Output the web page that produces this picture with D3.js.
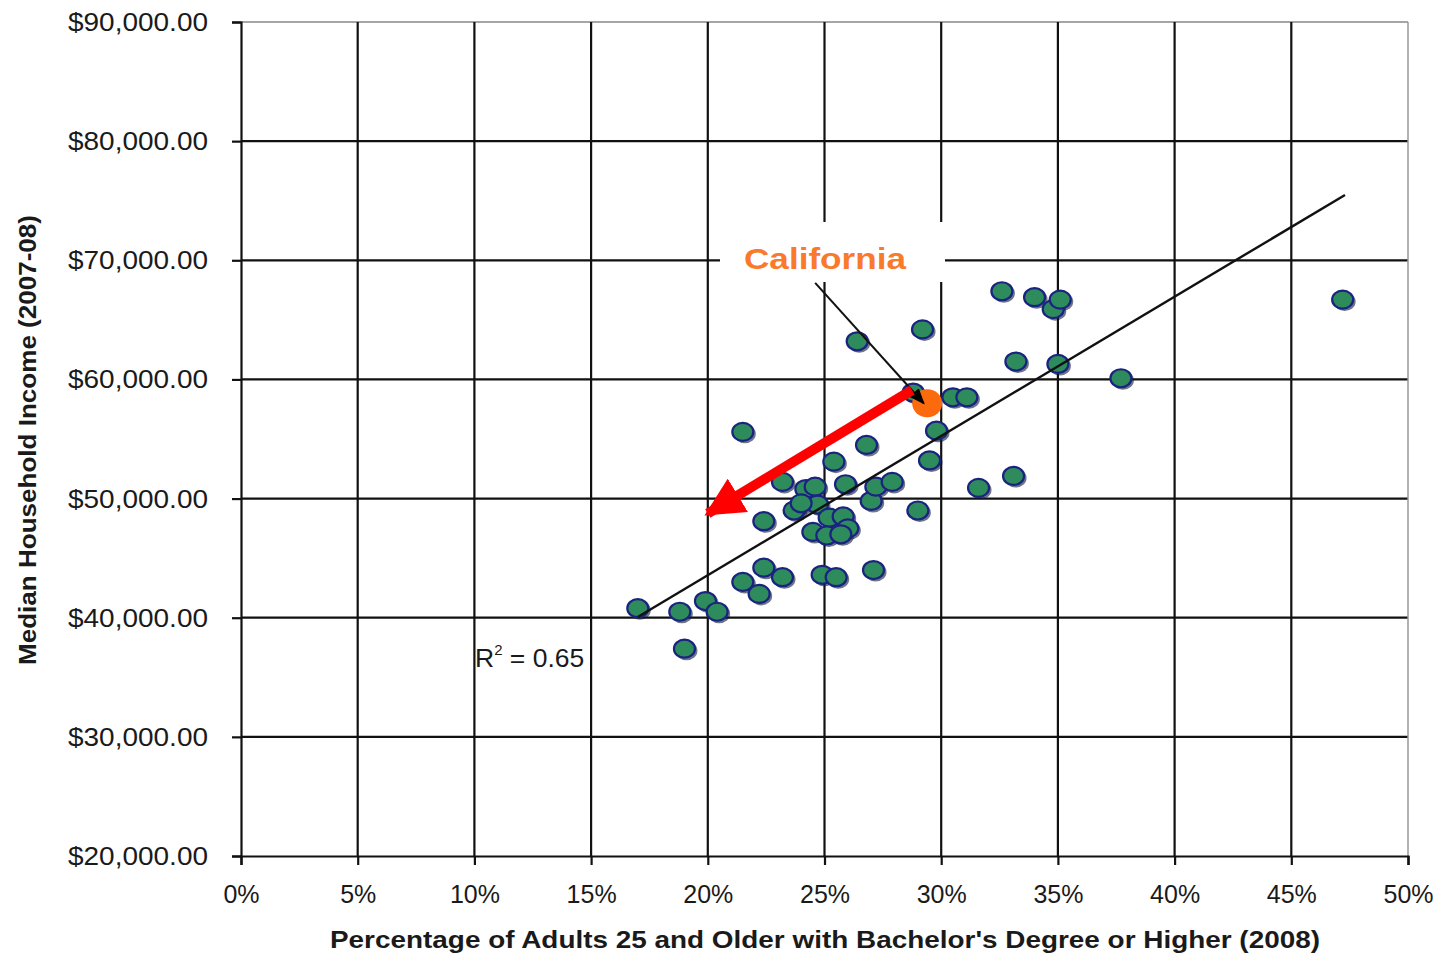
<!DOCTYPE html>
<html>
<head>
<meta charset="utf-8">
<script src="https://cdn.jsdelivr.net/npm/d3@7"></script>
<style>
  html, body { margin: 0; padding: 0; background: #fff; }
  svg { display: block; font-family: "Liberation Sans", Arial, sans-serif; }
</style>
</head>
<body>
<svg id="chart" width="1443" height="954"></svg>
<script>
// ---- Data ----
const statesPct = [17.0, 18.8, 19.0, 19.9, 20.4, 21.5, 21.5, 22.2, 22.4, 22.4,
  23.2, 23.2, 23.7, 24.2, 24.6, 24.7, 24.5, 24.9, 25.5, 25.2,
  25.1, 25.8, 26.0, 25.7, 25.4, 25.9, 26.8, 26.4, 27.0, 27.2,
  27.9, 27.1, 29.0, 29.2, 28.8, 29.5, 29.8, 30.5, 31.1, 31.6,
  32.6, 34.0, 34.8, 35.1, 33.2, 35.0, 37.7, 47.2, 33.1, 24.0];
const statesIncome = [40800, 40500, 37400, 41400, 40500, 55600, 43000, 42000, 48100, 44200,
  43400, 51400, 49000, 50800, 51000, 49500, 47200, 43600, 43400, 48400,
  46900, 48500, 47500, 47000, 53100, 51200, 54500, 63200, 49800, 51000,
  51400, 44000, 49000, 64200, 58900, 53200, 55700, 58500, 58500, 50900,
  67400, 66900, 65900, 66700, 61500, 61300, 60100, 66700, 51900, 49600];
const californiaPct = 29.4;
const californiaIncome = 58000;
const trendPct = [17.0, 47.3];
const trendIncome = [40060, 75480];
const xTicks = [0, 5, 10, 15, 20, 25, 30, 35, 40, 45, 50];
const yTicks = [20000, 30000, 40000, 50000, 60000, 70000, 80000, 90000];
const rSquared = "0.65";
const labelText = "California";
const xTitle = "Percentage of Adults 25 and Older with Bachelor's Degree or Higher (2008)";
const yTitle = "Median Household Income (2007-08)";
// annotation anchors in data units
const labelArrowFrom = [24.6, 68100];
const labelArrowTo = [29.25, 58000];
const redArrowFrom = [28.75, 59100];
const redArrowTo = [20.0, 48750];

// ---- Layout ----
const svg = d3.select("#chart");
const L = 241, R = 1408, T = 22, B = 856;
const x = d3.scaleLinear().domain([0, 50]).range([L, R]);
const y = d3.scaleLinear().domain([20000, 90000]).range([B, T]);

const defs = svg.append("defs");
defs.append("marker").attr("id", "blackHead")
  .attr("viewBox", "0 0 10 10").attr("refX", 9).attr("refY", 5)
  .attr("markerWidth", 8).attr("markerHeight", 8).attr("orient", "auto")
  .attr("markerUnits", "strokeWidth")
  .append("path").attr("d", "M0,1 L10,5 L0,9 z").attr("fill", "#000");
defs.append("marker").attr("id", "redHead")
  .attr("viewBox", "0 0 10 10").attr("refX", 9).attr("refY", 5)
  .attr("markerWidth", 3.9).attr("markerHeight", 3.9).attr("orient", "auto")
  .attr("markerUnits", "strokeWidth")
  .append("path").attr("d", "M0,0 L10,5 L0,10 z").attr("fill", "#ff0000");

// gridlines
const grid = svg.append("g");
grid.selectAll("line.h").data(yTicks.filter(d => d > 20000)).join("line")
  .attr("x1", L).attr("x2", R).attr("y1", d => y(d)).attr("y2", d => y(d))
  .attr("stroke", d => d === 90000 ? "#888" : "#111").attr("stroke-width", d => d === 90000 ? 1.5 : 2.2);
grid.selectAll("line.v").data(xTicks.filter(d => d > 0)).join("line")
  .attr("x1", d => x(d)).attr("x2", d => x(d)).attr("y1", T).attr("y2", B)
  .attr("stroke", d => d === 50 ? "#999" : "#111").attr("stroke-width", d => d === 50 ? 1.5 : 2.2);

// axes
const yAxis = svg.append("g").attr("transform", `translate(${L},0)`)
  .call(d3.axisLeft(y).tickValues(yTicks).tickFormat(d3.format("$,.2f")).tickSize(9).tickPadding(24));
yAxis.selectAll("text").attr("font-size", 26.5).attr("fill", "#1a1a1a")
  .attr("textLength", 140).attr("lengthAdjust", "spacingAndGlyphs");
const xAxis = svg.append("g").attr("transform", `translate(0,${B})`)
  .call(d3.axisBottom(x).tickValues(xTicks).tickFormat(d => d + "%").tickSize(9).tickPadding(20));
xAxis.selectAll("text").attr("font-size", 25).attr("fill", "#1a1a1a");
[yAxis, xAxis].forEach(a => {
  a.select(".domain").attr("stroke", "#111").attr("stroke-width", 2.2);
  a.selectAll(".tick line").attr("stroke", "#111").attr("stroke-width", 2.2);
});

// white box behind California label
const labelX = 825, labelY = 258;
svg.append("rect").attr("x", 720).attr("y", 222).attr("width", 225).attr("height", 60).attr("fill", "#fff");

// points
const pts = statesPct.map((p, i) => ({ p, v: statesIncome[i] }));
const dots = svg.append("g");
dots.selectAll("ellipse.sh").data(pts).join("ellipse")
  .attr("cx", d => x(d.p) + 2).attr("cy", d => y(d.v) + 2)
  .attr("rx", 11).attr("ry", 9.5).attr("fill", "#0d1a3a").attr("opacity", 0.6);
dots.selectAll("ellipse.pt").data(pts).join("ellipse")
  .attr("cx", d => x(d.p)).attr("cy", d => y(d.v))
  .attr("rx", 10.5).attr("ry", 9).attr("fill", "#2e8b5c")
  .attr("stroke", "#1b2380").attr("stroke-width", 2.2);

// California
svg.append("ellipse").attr("cx", x(californiaPct)).attr("cy", y(californiaIncome))
  .attr("rx", 15).attr("ry", 14).attr("fill", "#fb6a0c");

// trend line
svg.append("line")
  .attr("x1", x(trendPct[0])).attr("y1", y(trendIncome[0]))
  .attr("x2", x(trendPct[1])).attr("y2", y(trendIncome[1]))
  .attr("stroke", "#111").attr("stroke-width", 2.4);

// label arrow
svg.append("line")
  .attr("x1", x(labelArrowFrom[0])).attr("y1", y(labelArrowFrom[1]))
  .attr("x2", x(labelArrowTo[0])).attr("y2", y(labelArrowTo[1]))
  .attr("stroke", "#111").attr("stroke-width", 2).attr("marker-end", "url(#blackHead)");

// red arrow
svg.append("line")
  .attr("x1", x(redArrowFrom[0])).attr("y1", y(redArrowFrom[1]))
  .attr("x2", x(redArrowTo[0])).attr("y2", y(redArrowTo[1]))
  .attr("stroke", "#ff0000").attr("stroke-width", 10).attr("marker-end", "url(#redHead)");

// California text
svg.append("text").attr("x", labelX).attr("y", labelY + 11).attr("text-anchor", "middle")
  .attr("font-size", 30).attr("font-weight", "bold").attr("fill", "#fa7a2c")
  .attr("textLength", 162).attr("lengthAdjust", "spacingAndGlyphs").text(labelText);

// R squared
const rt = svg.append("text").attr("x", 475).attr("y", 667).attr("font-size", 26.5).attr("fill", "#1a1a1a");
rt.append("tspan").text("R");
rt.append("tspan").attr("font-size", 15).attr("dy", -12).text("2");
rt.append("tspan").attr("dy", 12).text(" = " + rSquared);

// axis titles
svg.append("text").attr("x", 825).attr("y", 948).attr("text-anchor", "middle")
  .attr("font-size", 24).attr("font-weight", "bold").attr("fill", "#1a1a1a")
  .attr("textLength", 990).attr("lengthAdjust", "spacingAndGlyphs").text(xTitle);
svg.append("text").attr("transform", "translate(36,440) rotate(-90)").attr("text-anchor", "middle")
  .attr("font-size", 24).attr("font-weight", "bold").attr("fill", "#1a1a1a")
  .attr("textLength", 450).attr("lengthAdjust", "spacingAndGlyphs").text(yTitle);
</script>
</body>
</html>
